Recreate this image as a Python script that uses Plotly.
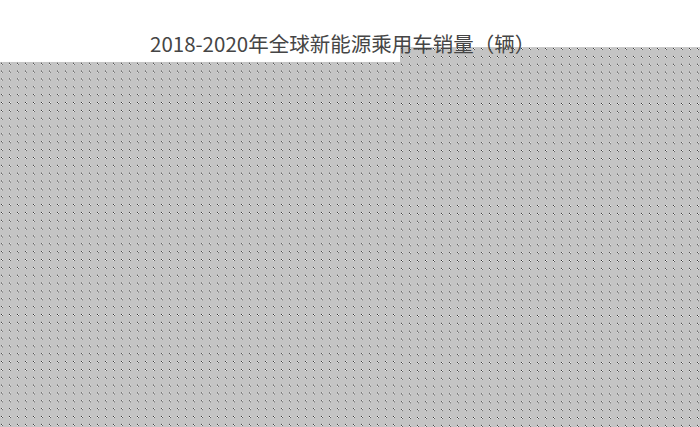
import base64
import plotly.graph_objects as go

# ---- data (underlying chart; covered by the grey dotted cover in the reference) ----
years = ["2018", "2019", "2020"]
sales = [2010000, 2210000, 3125000]
title_text = "2018-2020年全球新能源乘用车销量（辆）"

W, H = 700, 427

def dotted_svg(w, h):
    tile = (
        '<pattern id="p" width="8" height="8" patternUnits="userSpaceOnUse">'
        '<rect width="8" height="8" fill="#c4c4c4"/>'
        '<rect x="1" y="1" width="1" height="1" fill="#2e2e2e"/>'
        '<rect x="2" y="1" width="1" height="1" fill="#f2f2f2"/>'
        '<rect x="1" y="2" width="1" height="1" fill="#f2f2f2"/>'
        '<rect x="2" y="2" width="1" height="1" fill="#5a5a5a"/>'
        '</pattern>'
    )
    svg = (
        f'<svg xmlns="http://www.w3.org/2000/svg" width="{w}" height="{h}" '
        f'viewBox="0 0 {w} {h}"><defs>{tile}</defs>'
        f'<rect width="{w}" height="{h}" fill="url(#p)"/></svg>'
    )
    return "data:image/svg+xml;base64," + base64.b64encode(svg.encode()).decode()

fig = go.Figure()
fig.add_trace(go.Bar(x=years, y=sales, marker_color="#5b9bd5", showlegend=False))

# cover regions (pixel geometry of the grey dotted cover), extended past the bottom edge
left_top, right_top, split_x, extra = 63, 48, 400, 40
images = [
    dict(source=dotted_svg(split_x, H - left_top + extra), xref="paper", yref="paper",
         x=0, y=1 - left_top / H, sizex=split_x / W, sizey=(H - left_top + extra) / H,
         xanchor="left", yanchor="top", sizing="stretch", layer="above"),
    dict(source=dotted_svg(W - split_x, H - right_top + extra), xref="paper", yref="paper",
         x=split_x / W, y=1 - right_top / H, sizex=(W - split_x) / W,
         sizey=(H - right_top + extra) / H,
         xanchor="left", yanchor="top", sizing="stretch", layer="above"),
]

fig.update_layout(
    width=W, height=H,
    margin=dict(l=0, r=0, t=0, b=0),
    paper_bgcolor="white", plot_bgcolor="white",
    title=dict(text=title_text, x=150 / W, xanchor="left", xref="container",
               y=1 - 44.5 / H, yanchor="middle", yref="container",
               font=dict(family="Noto Sans CJK SC", size=20.5, color="#454545")),
    xaxis=dict(domain=[0.1, 0.95], showgrid=False),
    yaxis=dict(domain=[0.1, 0.75], showgrid=False),
    images=images,
)

fig.write_html(
    "out.html",
    config={"displayModeBar": False},
    post_script="document.body.style.margin='0';document.body.style.overflow='hidden';",
)
